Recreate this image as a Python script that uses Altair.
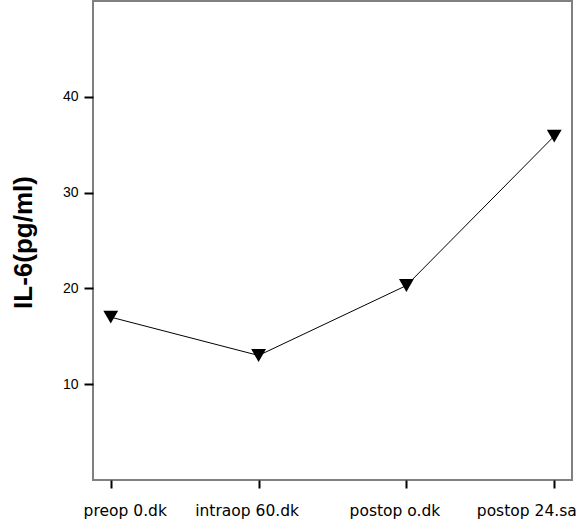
import altair as alt
import pandas as pd

# Time points and mean IL-6 levels
time_points = ["preop 0.dk", "intraop 60.dk", "postop o.dk", "postop 24.sa"]
il6_values = [17.0, 13.0, 20.3, 35.9]

df = pd.DataFrame({"time": time_points, "il6": il6_values})

# horizontal nudges of the category labels relative to their ticks
label_shift = {
    "preop 0.dk": 14,
    "intraop 60.dk": -12,
    "postop o.dk": -12,
    "postop 24.sa": -28,
}
label_offset = {
    "condition": [
        {"test": f"datum.value === '{k}'", "value": v} for k, v in label_shift.items()
    ],
    "value": 0,
}

x_enc = alt.X(
    "time:N",
    sort=time_points,
    scale=alt.Scale(type="point", padding=0.12),
    axis=alt.Axis(
        title=None,
        labelAngle=0,
        labelFont="DejaVu Sans",
        labelFontSize=15.5,
        labelColor="black",
        labelPadding=15,
        labelOffset=label_offset,
        labelOverlap=False,
        labelBound=False,
        tickColor="black",
        tickWidth=2,
        tickSize=8,
        domain=False,
        grid=False,
    ),
)

y_enc = alt.Y(
    "il6:Q",
    scale=alt.Scale(domain=[0, 50], nice=False, zero=False),
    axis=alt.Axis(
        title="IL-6(pg/ml)",
        titleFont="Liberation Sans",
        titleFontSize=26,
        titleFontWeight="bold",
        titleColor="black",
        titleAngle=-90,
        titleAlign="center",
        titleBaseline="middle",
        titleX=-70,
        titleY=241,
        values=[10, 20, 30, 40],
        labelFont="Liberation Sans",
        labelFontSize=14,
        labelColor="black",
        labelPadding=6,
        tickColor="black",
        tickWidth=2,
        tickSize=9,
        domain=False,
        grid=False,
    ),
)

base = alt.Chart(df).encode(x=x_enc, y=y_enc)

line = base.mark_line(color="black", strokeWidth=1)
points = base.mark_point(
    shape="triangle-down", filled=True, color="black", size=220, opacity=1
)

chart = (
    (line + points)
    .properties(
        width=479,
        height=479,
        autosize=alt.AutoSizeParams(type="none"),
        padding={"left": 93, "top": 1, "right": 7, "bottom": 51},
        background="white",
    )
    .configure_view(stroke="#808080", strokeWidth=2)
)

chart.save("out.html", embed_options={"renderer": "svg", "actions": False})
